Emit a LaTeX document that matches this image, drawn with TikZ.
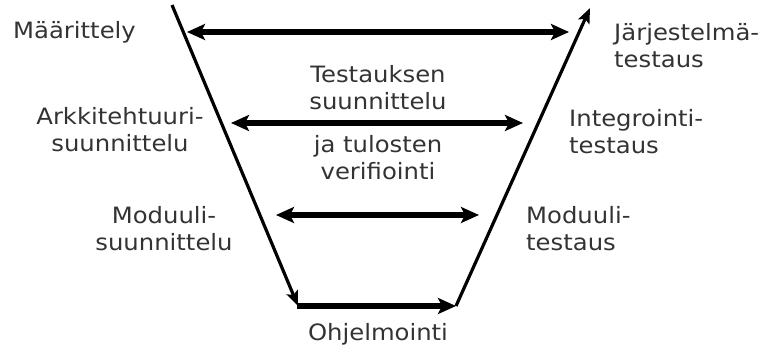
\documentclass[tikz,border=0pt]{standalone}
\usepackage{fontspec}
\setmainfont{DejaVu Sans}[FakeStretch=1.08]
\usetikzlibrary{arrows.meta}
\tikzset{
  lbl/.style={font=\fontsize{22.5}{27.5}\selectfont, inner sep=0pt, text=black!80},
  tip/.style={-{Stealth[length=17pt, width=14pt, inset=4pt]}},
  vline/.style={line width=3.2pt, -{Stealth[length=15pt, width=12pt, inset=3pt]}},
  harrow/.style={line width=5.5pt, {Stealth[length=18pt, width=16pt, inset=4pt]}-{Stealth[length=18pt, width=16pt, inset=4pt]}},
  barrow/.style={line width=5.5pt, -{Stealth[length=18pt, width=16pt, inset=4pt]}, shorten <=-1pt}
}
\begin{document}
\begin{tikzpicture}[x=1pt, y=-1pt]
  \useasboundingbox (0,0) rectangle (761,358);
  % corners of the V
  \coordinate (tl) at (172,5);
  \coordinate (bl) at (298,306);
  \coordinate (br) at (456,306);
  \coordinate (tr) at (590,8);
  % level arrows between the two branches
  \coordinate (a1) at (187,32);  \coordinate (b1) at (569,32);
  \coordinate (a2) at (231,123); \coordinate (b2) at (523,123);
  \coordinate (a3) at (276,215); \coordinate (b3) at (479,215);

  \draw[vline] (tl) -- (bl);
  \draw[barrow] (bl) -- (br);
  \draw[vline] (br) -- (tr);
  \draw[harrow] (a1) -- (b1);
  \draw[harrow] (a2) -- (b2);
  \draw[harrow] (a3) -- (b3);

  % phase labels (anchored at the baseline of their last line)
  \node[lbl, anchor=base west] (maar) at (13,39) {Määrittely};
  \node[lbl, anchor=base, align=center] (ark) at (120,152) {Arkkitehtuuri-\\suunnittelu};
  \node[lbl, anchor=base, align=center] (modsu) at (164,251) {Moduuli-\\suunnittelu};
  \node[lbl, anchor=base, align=center] (ohj) at (378,341) {Ohjelmointi};
  \node[lbl, anchor=base west, align=left] (jar) at (614,68) {Järjestelmä-\\testaus};
  \node[lbl, anchor=base west, align=left] (int) at (569,154) {Integrointi-\\testaus};
  \node[lbl, anchor=base west, align=left] (modte) at (526,251) {Moduuli-\\testaus};
  \node[lbl, anchor=base, align=center] (tes1) at (378,110) {Testauksen\\suunnittelu};
  \node[lbl, anchor=base, align=center] (tes2) at (378,180) {ja tulosten\\verifiointi};
\end{tikzpicture}
\end{document}
